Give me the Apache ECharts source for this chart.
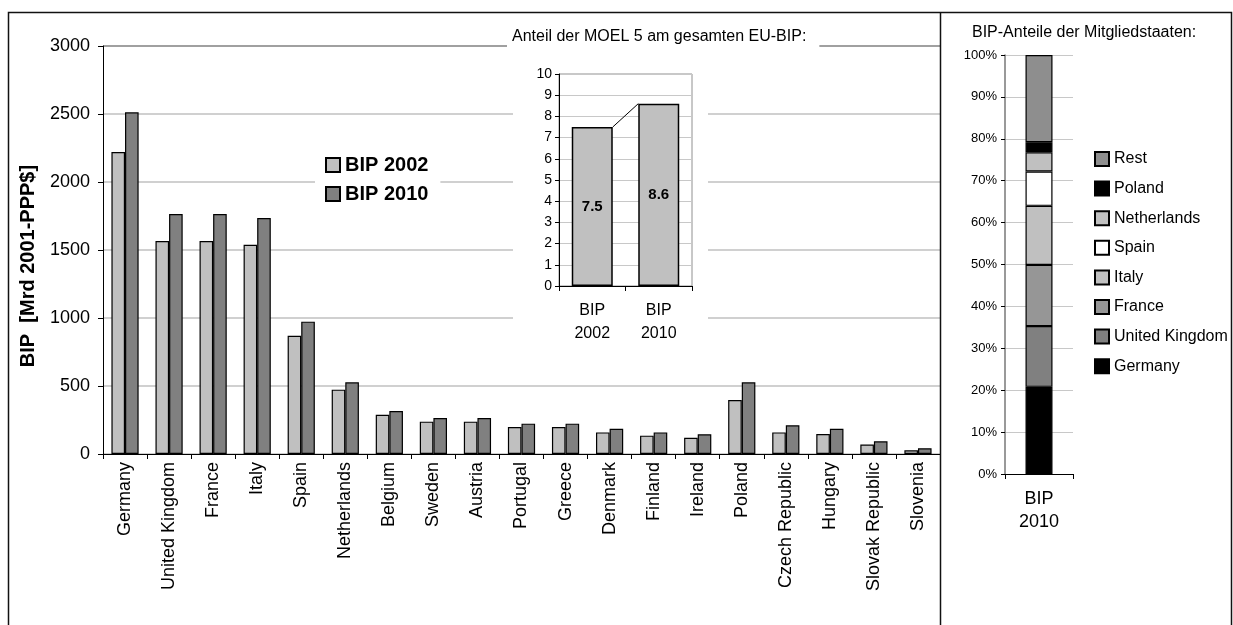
<!DOCTYPE html>
<html>
<head>
<meta charset="utf-8">
<script src="https://cdn.jsdelivr.net/npm/echarts@6/dist/echarts.min.js"></script>
<style>
html,body{margin:0;padding:0;background:#fff;}
#chart{width:1233px;height:625px;}
</style>
</head>
<body>
<div id="chart"></div>
<script>
// ---- data ----
var categories = ['Germany','United Kingdom','France','Italy','Spain','Netherlands','Belgium','Sweden','Austria','Portugal','Greece','Denmark','Finland','Ireland','Poland','Czech Republic','Hungary','Slovak Republic','Slovenia'];
var bip2002 = [2221,1566,1566,1539,870,473,289,238,238,199,199,159,135,120,397,159,147,69,27];
var bip2010 = [2512,1765,1765,1735,973,527,316,265,265,223,223,186,159,145,527,211,186,93,42];
var mainTicks = [0,500,1000,1500,2000,2500,3000];

var insetCats = ['BIP\n2002','BIP\n2010'];
var moelShare = [7.5, 8.6];

var shareCats = ['BIP\n2010'];
var shareNames = ['Germany','United Kingdom','France','Italy','Spain','Netherlands','Poland','Rest'];
var shareValues = [20.8,14.5,14.6,14.1,8.2,4.6,2.4,20.8];

// ---- styles ----
var shareColors = ['#000000','#808080','#969696','#c0c0c0','#ffffff','#c0c0c0','#000000','#8e8e8e'];
var FONT = '"Liberation Sans", Arial, sans-serif';

var chart = echarts.init(document.getElementById('chart'), null, {renderer:'canvas'});

var shareSeries = shareNames.map(function(n, i){
  return {
    name: n, type: 'bar', stack: 'share', xAxisIndex: 2, yAxisIndex: 2,
    barWidth: 27, z: 4,
    itemStyle: {color: shareColors[i], borderColor: '#000', borderWidth: 1.2},
    data: [shareValues[i]]
  };
});

var splitColors = mainTicks.map(function(t, i){ return i === mainTicks.length - 1 ? '#808080' : '#c0c0c0'; });

var option = {
  animation: false,
  textStyle: {fontFamily: FONT, color: '#000'},
  title: [
    {text: 'Anteil der MOEL 5 am gesamten EU-BIP:', left: 507, top: 27, padding: [2, 13, 4, 5],
     backgroundColor: '#fff', textStyle: {fontSize: 16, fontWeight: 'normal', color: '#000', fontFamily: FONT}},
    {text: 'BIP-Anteile der Mitgliedstaaten:', left: 968, top: 23, padding: [2,4,2,4],
     textStyle: {fontSize: 16, fontWeight: 'normal', color: '#000', fontFamily: FONT}}
  ],
  graphic: [
    {type: 'rect', z: 1, shape: {x: 513, y: 50, width: 195, height: 292}, style: {fill: '#fff'}, silent: true},
    {type: 'rect', z: 20, shape: {x: 8.5, y: 12.5, width: 1223, height: 620}, style: {fill: 'none', stroke: '#111', lineWidth: 1.5}, silent: true},
    {type: 'line', z: 20, shape: {x1: 940.5, y1: 12.5, x2: 940.5, y2: 630}, style: {stroke: '#111', lineWidth: 1.5}, silent: true},
    {type: 'text', z: 20, x: 28, y: 266, rotation: Math.PI / 2,
     style: {text: 'BIP  [Mrd 2001-PPP$]', font: 'bold 20px ' + FONT, fill: '#000', align: 'center', verticalAlign: 'middle'}}
  ],
  legend: [
    {data: ['BIP 2002','BIP 2010'], orient: 'vertical', left: 315, top: 149, icon: 'rect',
     padding: [6, 12, 6, 10], backgroundColor: '#fff', itemWidth: 14, itemHeight: 14, itemGap: 9, itemTextGap: 5,
     textStyle: {fontSize: 20, fontWeight: 'bold', color: '#000', fontFamily: FONT}, z: 6},
    {data: shareNames.slice().reverse(), orient: 'vertical', left: 1094, top: 151, padding: 0, icon: 'rect',
     itemWidth: 14, itemHeight: 14, itemGap: 13.6, itemTextGap: 5,
     textStyle: {fontSize: 16, color: '#000', fontFamily: FONT}}
  ],
  grid: [
    {left: 103, top: 46, width: 837, height: 408},
    {left: 559, top: 74, width: 133, height: 212, show: true, borderColor: '#909090', borderWidth: 1, backgroundColor: 'transparent', z: 3},
    {left: 1005, top: 55, width: 68, height: 419}
  ],
  xAxis: [
    {type: 'category', gridIndex: 0, data: categories,
     axisLine: {lineStyle: {color: '#000', width: 1}},
     axisTick: {show: true, length: 5, lineStyle: {color: '#000'}},
     axisLabel: {rotate: 90, fontSize: 18, margin: 8, color: '#000', interval: 0}},
    {type: 'category', gridIndex: 1, data: insetCats, z: 4,
     axisLine: {lineStyle: {color: '#000', width: 1}},
     axisTick: {show: true, length: 5, lineStyle: {color: '#000'}},
     axisLabel: {fontSize: 16, margin: 13, color: '#000', lineHeight: 23, interval: 0}},
    {type: 'category', gridIndex: 2, data: shareCats,
     axisLine: {lineStyle: {color: '#000', width: 1}},
     axisTick: {show: true, length: 5, lineStyle: {color: '#000'}},
     axisLabel: {fontSize: 18, margin: 14, color: '#000', lineHeight: 23}}
  ],
  yAxis: [
    {type: 'value', gridIndex: 0, min: 0, max: 3000, interval: 500,
     axisLine: {show: true, lineStyle: {color: '#000', width: 1}},
     axisTick: {show: true, length: 5, lineStyle: {color: '#000'}},
     axisLabel: {fontSize: 18, margin: 13, color: '#000', formatter: function(v){ return String(v); }},
     splitLine: {show: true, lineStyle: {color: splitColors, width: 1.5}}},
    {type: 'value', gridIndex: 1, min: 0, max: 10, interval: 1, z: 4,
     axisLine: {show: true, lineStyle: {color: '#000', width: 1}},
     axisTick: {show: true, length: 4, lineStyle: {color: '#000'}},
     axisLabel: {fontSize: 14, margin: 7, color: '#000'},
     splitLine: {show: true, lineStyle: {color: '#c8c8c8', width: 1}}},
    {type: 'value', gridIndex: 2, min: 0, max: 100, interval: 10,
     axisLine: {show: true, lineStyle: {color: '#777', width: 1.5}},
     axisTick: {show: true, length: 4, lineStyle: {color: '#000'}},
     axisLabel: {fontSize: 13, margin: 8, color: '#000', formatter: '{value}%'},
     splitLine: {show: true, lineStyle: {color: '#c8c8c8', width: 1}}}
  ],
  series: [
    {name: 'BIP 2002', type: 'bar', xAxisIndex: 0, yAxisIndex: 0, barWidth: 13.6, barGap: '0%',
     itemStyle: {color: '#c0c0c0', borderColor: '#000', borderWidth: 1.2}, data: bip2002},
    {name: 'BIP 2010', type: 'bar', xAxisIndex: 0, yAxisIndex: 0, barWidth: 13.6, barGap: '0%',
     itemStyle: {color: '#808080', borderColor: '#000', borderWidth: 1.2}, data: bip2010},
    {name: 'MOEL', type: 'bar', xAxisIndex: 1, yAxisIndex: 1, barWidth: 41, z: 5,
     itemStyle: {color: '#c0c0c0', borderColor: '#000', borderWidth: 1.5},
     label: {show: true, position: 'inside', fontSize: 15, fontWeight: 'bold', color: '#000', fontFamily: FONT},
     data: moelShare},
    {name: 'MOEL-Linie', type: 'custom', xAxisIndex: 1, yAxisIndex: 1, z: 5,
     encode: {x: 0, y: 1},
     data: [[0, moelShare[0], 1, moelShare[1]]],
     renderItem: function(params, api){
       var p1 = api.coord([api.value(0), api.value(1)]);
       var p2 = api.coord([api.value(2), api.value(3)]);
       var half = 41 / 2;
       return {type: 'line', shape: {x1: p1[0] + half, y1: p1[1], x2: p2[0] - half, y2: p2[1]},
               style: {stroke: '#000', lineWidth: 1}};
     }}
  ].concat(shareSeries)
};
chart.setOption(option);
</script>
</body>
</html>
